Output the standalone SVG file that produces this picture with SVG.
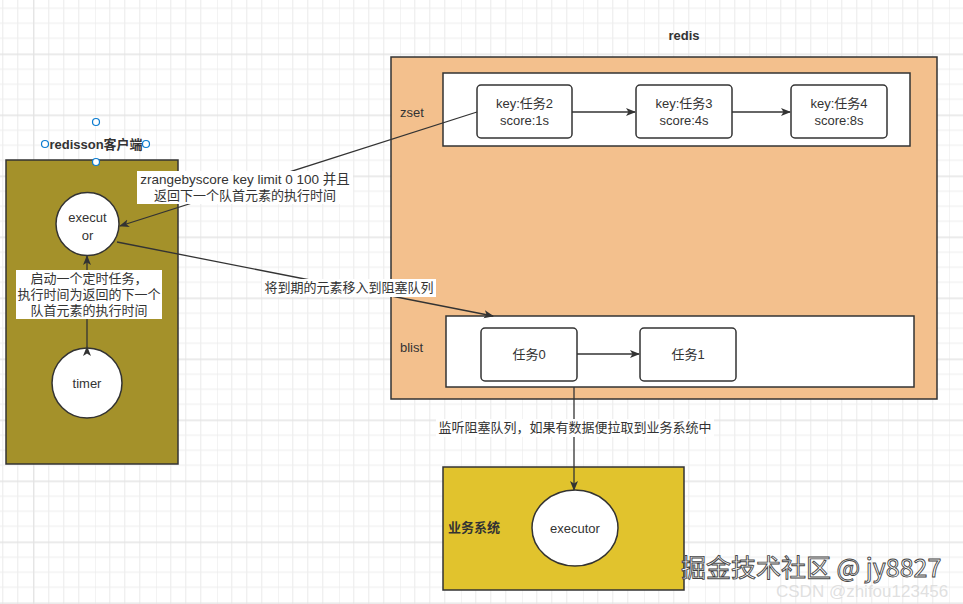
<svg xmlns="http://www.w3.org/2000/svg" width="963" height="604" viewBox="0 0 963 604">
<defs>
  <pattern id="grid" patternUnits="userSpaceOnUse" x="33" y="53.5" width="61" height="61">
    <path d="M15.75 0V61M30.75 0V61M45.75 0V61M0 15.75H61M0 30.75H61M0 45.75H61" stroke="#eeeeee" stroke-width="1.2" fill="none"/>
    <path d="M0.75 0V61M0 0.75H61" stroke="#e4e4e4" stroke-width="1.4" fill="none"/>
  </pattern>
  <marker id="arr" markerWidth="10" markerHeight="10" refX="9" refY="5" orient="auto" markerUnits="userSpaceOnUse">
    <path d="M0,1 L10,5 L0,9 L2.5,5 Z" fill="#333"/>
  </marker>
</defs>
<style>
  text { font-family: "Liberation Sans", "Noto Sans CJK SC", sans-serif; font-size: 13px; fill: #333; }
  .b { font-weight: bold; }
  .box { fill: #fff; stroke: #333; stroke-width: 1.5; }
  .cont { stroke: #333; stroke-width: 1.5; }
  .edge { stroke: #333; stroke-width: 1.3; fill: none; }
  .lbl { fill: #fff; }
  .handle { fill: #fff; stroke: #0a7bd0; stroke-width: 1.2; }
</style>
<rect width="963" height="604" fill="#fff"/>
<rect width="963" height="604" fill="url(#grid)"/>

<!-- redisson client -->
<g id="redisson">
  <rect class="cont" x="6" y="160" width="172" height="304" fill="#a4912a"/>
  <text class="b" x="96" y="149" text-anchor="middle">redisson客户端</text>
  <circle class="handle" cx="96" cy="122" r="3.5"/>
  <circle class="handle" cx="45" cy="144" r="3.5"/>
  <circle class="handle" cx="146" cy="144" r="3.5"/>
  <circle class="handle" cx="96" cy="162" r="3.5"/>
</g>
<g id="executor1">
  <circle cx="87.5" cy="224" r="31.5" fill="#fff" stroke="#333" stroke-width="1.5"/>
  <text x="87.5" y="222" text-anchor="middle">execut</text>
  <text x="87.5" y="240" text-anchor="middle">or</text>
</g>
<g id="timer">
  <circle cx="87" cy="383" r="35" fill="#fff" stroke="#333" stroke-width="1.5"/>
  <text x="87" y="388" text-anchor="middle">timer</text>
</g>

<!-- redis -->
<g id="redis">
  <rect class="cont" x="391" y="57" width="546" height="342" fill="#f3c08d"/>
  <text class="b" x="684" y="40" text-anchor="middle">redis</text>
</g>
<g id="zset">
  <rect class="box" x="443" y="73" width="467" height="73"/>
  <text x="400" y="117">zset</text>
</g>
<g id="task2">
  <rect class="box" x="477" y="85" width="95" height="53" rx="4"/>
  <text x="524.5" y="108" text-anchor="middle">key:任务2</text>
  <text x="524.5" y="125" text-anchor="middle">score:1s</text>
</g>
<g id="task3">
  <rect class="box" x="636" y="85" width="96" height="53" rx="4"/>
  <text x="684" y="108" text-anchor="middle">key:任务3</text>
  <text x="684" y="125" text-anchor="middle">score:4s</text>
</g>
<g id="task4">
  <rect class="box" x="791" y="85" width="96" height="53" rx="4"/>
  <text x="839" y="108" text-anchor="middle">key:任务4</text>
  <text x="839" y="125" text-anchor="middle">score:8s</text>
</g>
<g id="blist">
  <rect class="box" x="446" y="316" width="468" height="71"/>
  <text x="400" y="352">blist</text>
</g>
<g id="task0">
  <rect class="box" x="481" y="328" width="96" height="53" rx="4"/>
  <text x="529" y="359" text-anchor="middle">任务0</text>
</g>
<g id="task1">
  <rect class="box" x="640" y="328" width="96" height="53" rx="4"/>
  <text x="688" y="359" text-anchor="middle">任务1</text>
</g>

<!-- business system -->
<g id="biz">
  <rect class="cont" x="443" y="467" width="241" height="123" fill="#e1c32d"/>
  <text class="b" x="448" y="532">业务系统</text>
</g>
<g id="executor2">
  <ellipse cx="575" cy="528" rx="43" ry="38" fill="#fff" stroke="#333" stroke-width="1.5"/>
  <text x="575" y="533" text-anchor="middle">executor</text>
</g>

<!-- connectors -->
<g id="edges">
  <line class="edge" x1="572" y1="112" x2="635" y2="112" marker-end="url(#arr)"/>
  <line class="edge" x1="732" y1="112" x2="790" y2="112" marker-end="url(#arr)"/>
  <line class="edge" x1="577" y1="354" x2="639" y2="354" marker-end="url(#arr)"/>
  <line class="edge" x1="477" y1="112" x2="120" y2="226" marker-end="url(#arr)"/>
  <line class="edge" x1="117" y1="242" x2="493" y2="316" marker-end="url(#arr)"/>
  <line class="edge" x1="87" y1="347" x2="87" y2="256" marker-start="url(#arr)" marker-end="url(#arr)"/>
  <line class="edge" x1="574" y1="387" x2="574" y2="490" marker-end="url(#arr)"/>

  <rect class="lbl" x="137" y="171" width="216" height="33"/>
  <text x="245" y="184" text-anchor="middle" style="font-size:13.5px">zrangebyscore key limit 0 100 并且</text>
  <text x="245" y="200" text-anchor="middle">返回下一个队首元素的执行时间</text>

  <rect class="lbl" x="16" y="270" width="146" height="49"/>
  <text x="89" y="283" text-anchor="middle">启动一个定时任务，</text>
  <text x="89" y="299" text-anchor="middle">执行时间为返回的下一个</text>
  <text x="89" y="315" text-anchor="middle">队首元素的执行时间</text>

  <rect class="lbl" x="262" y="279" width="174" height="18"/>
  <text x="349" y="292" text-anchor="middle">将到期的元素移入到阻塞队列</text>

  <rect class="lbl" x="436" y="419" width="278" height="18"/>
  <text x="575" y="432" text-anchor="middle">监听阻塞队列，如果有数据便拉取到业务系统中</text>
</g>

<!-- watermarks -->
<text x="681" y="577" style="font-size:25px;fill:#fff;stroke:#444;stroke-width:0.9;font-family:'Noto Sans CJK SC','Liberation Sans',sans-serif">掘金技术社区 @ jy8827</text>
<text x="776" y="597" style="font-size:17px;fill:#d8d8d8;fill-opacity:0.8">CSDN @zhifou123456</text>
</svg>
